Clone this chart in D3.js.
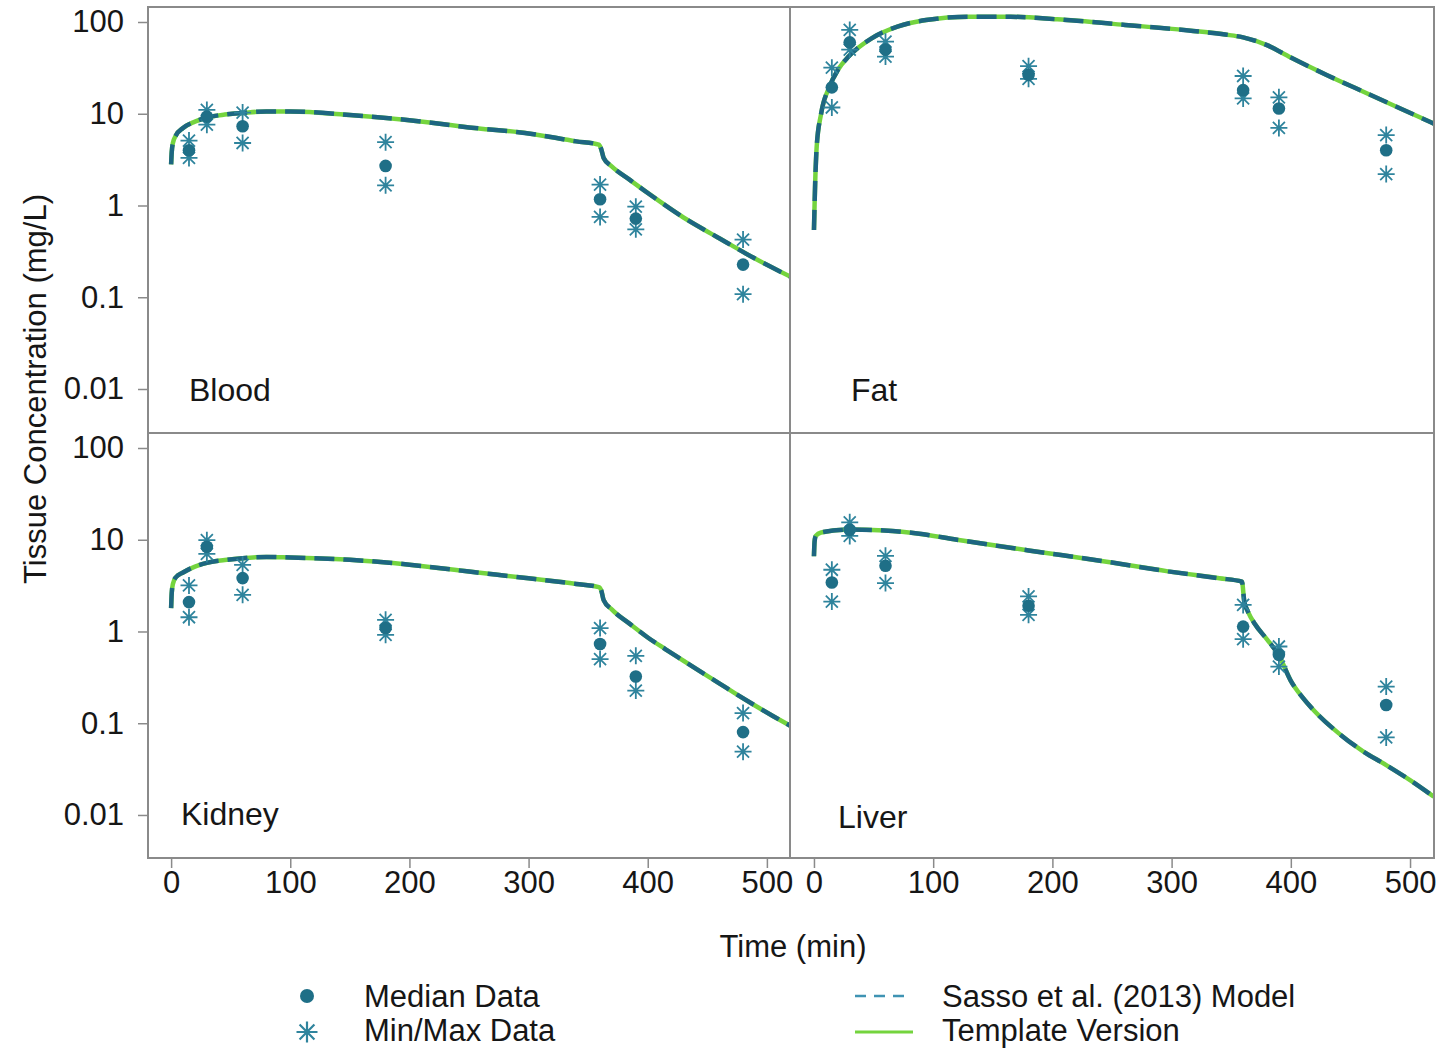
<!DOCTYPE html>
<html lang="en">
<head>
<meta charset="utf-8">
<title>Tissue Concentration</title>
<script src="https://d3js.org/d3.v7.min.js"></script>
<style>
  body { margin: 0; background: #fff; }
  text { font-family: "Liberation Sans", Arial, Helvetica, sans-serif; fill: #161616; }
  .frame { fill: none; stroke: #8a8a8a; stroke-width: 2; }
  .axis path { display: none; }
  .axis line { stroke: #8a8a8a; stroke-width: 1.5; }
  .axis text { font-size: 31px; fill: #161616; }
  .template { fill: none; stroke: #74d43e; stroke-width: 4.5; }
  .sasso { fill: none; stroke: #1d6681; stroke-width: 4.5; stroke-dasharray: 20 9; }
  .star { fill: none; stroke: #2f849d; stroke-width: 1.8; }
  .dot { fill: #1f6f87; }
</style>
</head>
<body>
<script>
const w = 1449, h = 1048;

// measured sampling times (min)
const sampleTimes = [15, 30, 60, 180, 360, 390, 480];

// observed data (mg/L)
const bloodMedian = [4.0, 9.3, 7.3, 2.7, 1.17, 0.72, 0.227];
const bloodMin    = [3.3, 7.6, 4.8, 1.66, 0.75, 0.55, 0.108];
const bloodMax    = [5.1, 11.0, 10.3, 4.9, 1.69, 0.97, 0.425];

const fatMedian = [19.4, 60, 50, 26.5, 18.1, 11.4, 4.0];
const fatMin    = [11.7, 50, 42, 24, 14.7, 7.0, 2.2];
const fatMax    = [31.8, 82, 61, 33, 25.8, 15.1, 5.85];

const kidneyMedian = [2.09, 8.4, 3.82, 1.09, 0.73, 0.323, 0.08];
const kidneyMin    = [1.43, 7.0, 2.51, 0.92, 0.5, 0.227, 0.049];
const kidneyMax    = [3.18, 9.9, 5.33, 1.34, 1.09, 0.543, 0.129];

const liverMedian = [3.42, 12.8, 5.2, 1.91, 1.13, 0.556, 0.158];
const liverMin    = [2.12, 11.0, 3.37, 1.52, 0.825, 0.415, 0.070];
const liverMax    = [4.71, 15.5, 6.68, 2.41, 1.95, 0.686, 0.251];

// model simulations (Sasso et al. (2013) model and template version overlap)
const bloodModelTime = [0, 0.5, 1.5, 4, 10, 20, 30, 45, 60, 80, 100, 150, 200, 250, 300, 340, 359, 361, 363, 370, 385, 400, 430, 460, 490, 520];
const bloodModel     = [2.8, 3.8, 4.8, 5.8, 7.0, 8.2, 9.1, 9.8, 10.2, 10.6, 10.6, 9.7, 8.5, 7.1, 6.1, 5.0, 4.6, 4.1, 3.3, 2.65, 1.9, 1.37, 0.74, 0.44, 0.264, 0.167];

const fatModelTime = [0, 0.5, 1, 2.3, 6, 13, 20, 29, 48, 70, 94, 130, 165, 204, 261, 318, 345, 360, 380, 400, 430, 460, 490, 520];
const fatModel     = [0.54, 1.0, 1.74, 4.4, 10, 19.7, 30, 42, 66, 89, 105, 114, 114, 107, 93, 80, 73, 68, 56, 41, 26.5, 17.6, 11.7, 7.8];

const kidneyModelTime = [0, 0.5, 1.5, 4, 10, 20, 30, 45, 60, 80, 100, 150, 200, 250, 300, 340, 359, 361, 363, 370, 385, 400, 415, 430, 445, 460, 475, 490, 505, 520];
const kidneyModel     = [1.8, 2.6, 3.3, 3.9, 4.4, 5.1, 5.6, 6.0, 6.3, 6.5, 6.4, 6.05, 5.35, 4.5, 3.8, 3.3, 3.05, 2.8, 2.2, 1.73, 1.21, 0.86, 0.64, 0.48, 0.36, 0.272, 0.205, 0.156, 0.12, 0.0935];

const liverModelTime = [0, 0.5, 1.5, 6, 29, 59, 85, 120, 180, 244, 297, 340, 359, 361, 364, 370, 380, 390, 400, 410, 420, 440, 460, 480, 500, 520];
const liverModel     = [6.6, 9.5, 11, 12, 12.9, 12.6, 11.8, 10, 7.65, 5.8, 4.52, 3.8, 3.5, 2.1, 1.65, 1.2, 0.82, 0.55, 0.29, 0.19, 0.135, 0.078, 0.05, 0.035, 0.024, 0.0158];

const xTicks = [0, 100, 200, 300, 400, 500];
const yTicks = [0.01, 0.1, 1, 10, 100];
const yTickLabels = ["0.01", "0.1", "1", "10", "100"];

const panels = [
  { name: "Blood",  col: 0, row: 0, median: bloodMedian,  min: bloodMin,  max: bloodMax,  mt: bloodModelTime,  mv: bloodModel,  lx: 189, ly: 401 },
  { name: "Fat",    col: 1, row: 0, median: fatMedian,    min: fatMin,    max: fatMax,    mt: fatModelTime,    mv: fatModel,    lx: 851, ly: 401 },
  { name: "Kidney", col: 0, row: 1, median: kidneyMedian, min: kidneyMin, max: kidneyMax, mt: kidneyModelTime, mv: kidneyModel, lx: 181, ly: 825 },
  { name: "Liver",  col: 1, row: 1, median: liverMedian,  min: liverMin,  max: liverMax,  mt: liverModelTime,  mv: liverModel,  lx: 838, ly: 828 }
];

const colX = [[148, 790], [790, 1434]];
const rowY = [[433, 7], [858, 433]];
const xDomains = [[-19.4, 519.4], [-20.1, 520.1]];
const yDomains = [[Math.pow(10, -2.4796), Math.pow(10, 2.1635)], [Math.pow(10, -2.469), Math.pow(10, 2.1635)]];

const svg = d3.select("body").append("svg").attr("width", w).attr("height", h);

function starPath(r) {
  const d = r * Math.SQRT1_2;
  return `M${-r},0L${r},0M0,${-r}L0,${r}M${-d},${-d}L${d},${d}M${-d},${d}L${d},${-d}`;
}

panels.forEach((p, i) => {
  const x = d3.scaleLinear().domain(xDomains[p.col]).range(colX[p.col]);
  const y = d3.scaleLog().domain(yDomains[p.row]).range(rowY[p.row]);

  const g = svg.append("g");
  const clipId = "clip" + i;
  svg.append("clipPath").attr("id", clipId)
    .append("rect")
    .attr("x", colX[p.col][0]).attr("y", rowY[p.row][1])
    .attr("width", colX[p.col][1] - colX[p.col][0])
    .attr("height", rowY[p.row][0] - rowY[p.row][1]);

  const model = p.mt.map((t, k) => ({ t: t, v: p.mv[k] }));
  const line = d3.line().x(d => x(d.t)).y(d => y(d.v)).curve(d3.curveMonotoneX);

  const lines = g.append("g").attr("clip-path", `url(#${clipId})`);
  lines.append("path").attr("class", "template").attr("d", line(model));
  lines.append("path").attr("class", "sasso").attr("d", line(model));

  const obs = sampleTimes.map((t, k) => ({ t: t, med: p.median[k], lo: p.min[k], hi: p.max[k] }));

  g.selectAll(".starHi").data(obs).enter().append("path")
    .attr("class", "star")
    .attr("d", starPath(8.5))
    .attr("transform", d => `translate(${x(d.t)},${y(d.hi)})`);
  g.selectAll(".starLo").data(obs).enter().append("path")
    .attr("class", "star")
    .attr("d", starPath(8.5))
    .attr("transform", d => `translate(${x(d.t)},${y(d.lo)})`);
  g.selectAll(".dot").data(obs).enter().append("circle")
    .attr("class", "dot")
    .attr("cx", d => x(d.t)).attr("cy", d => y(d.med)).attr("r", 6.3);

  g.append("text").attr("x", p.lx).attr("y", p.ly)
    .style("font-size", "32px").text(p.name);

  if (p.col === 0) {
    svg.append("g").attr("class", "axis")
      .attr("transform", `translate(${colX[0][0]},0)`)
      .call(d3.axisLeft(y).tickValues(yTicks).tickSize(10).tickPadding(14)
        .tickFormat((d, k) => yTickLabels[k]));
  }
  if (p.row === 1) {
    svg.append("g").attr("class", "axis")
      .attr("transform", `translate(0,${rowY[1][0]})`)
      .call(d3.axisBottom(x).tickValues(xTicks).tickSize(10).tickPadding(3));
  }
});

// panel frames
svg.append("rect").attr("class", "frame")
  .attr("x", colX[0][0]).attr("y", rowY[0][1])
  .attr("width", colX[1][1] - colX[0][0]).attr("height", rowY[1][0] - rowY[0][1]);
svg.append("line").attr("class", "frame")
  .attr("x1", colX[0][1]).attr("x2", colX[0][1]).attr("y1", rowY[0][1]).attr("y2", rowY[1][0]);
svg.append("line").attr("class", "frame")
  .attr("x1", colX[0][0]).attr("x2", colX[1][1]).attr("y1", rowY[0][0]).attr("y2", rowY[0][0]);

// axis titles
svg.append("text")
  .attr("transform", "translate(46,389) rotate(-90)")
  .attr("text-anchor", "middle")
  .style("font-size", "31px")
  .text("Tissue Concentration (mg/L)");

svg.append("text")
  .attr("x", 793).attr("y", 957)
  .attr("text-anchor", "middle")
  .style("font-size", "31px")
  .text("Time (min)");

// legend
const legend = svg.append("g");
legend.append("circle").attr("class", "dot").attr("cx", 307).attr("cy", 996).attr("r", 7);
legend.append("path").attr("class", "star").attr("d", starPath(10.5))
  .attr("transform", "translate(307,1032)").style("stroke-width", 2.2);
legend.append("text").attr("x", 364).attr("y", 1007).style("font-size", "31px").text("Median Data");
legend.append("text").attr("x", 364).attr("y", 1041).style("font-size", "31px").text("Min/Max Data");

legend.append("line").attr("x1", 855).attr("x2", 910).attr("y1", 996).attr("y2", 996)
  .style("stroke", "#3f93b3").style("stroke-width", 2.5).style("stroke-dasharray", "11 8");
legend.append("line").attr("x1", 855).attr("x2", 913).attr("y1", 1032).attr("y2", 1032)
  .style("stroke", "#74d43e").style("stroke-width", 3);
legend.append("text").attr("x", 942).attr("y", 1007).style("font-size", "31px").text("Sasso et al. (2013) Model");
legend.append("text").attr("x", 942).attr("y", 1041).style("font-size", "31px").text("Template Version");
</script>
</body>
</html>
